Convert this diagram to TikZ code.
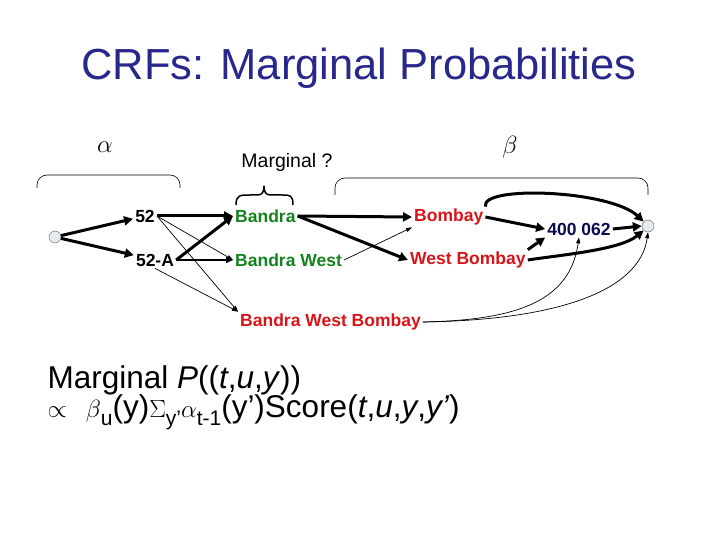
\documentclass[tikz,border=0pt]{standalone}
\usepackage{fontspec}
\setmainfont{Liberation Sans}
\usetikzlibrary{arrows.meta}
\definecolor{tgreen}{RGB}{20,130,30}
\definecolor{tred}{RGB}{215,20,25}
\definecolor{tnavy}{RGB}{10,10,80}
\definecolor{ttitle}{RGB}{40,40,140}
\newcommand{\lsub}[1]{\raisebox{-0.25em}{\fontsize{21}{23}\selectfont #1}}
\tikzset{
 lbl/.style={inner sep=2pt,font=\bfseries\fontsize{17.5}{19}\selectfont},
 thick1/.style={line width=3pt,-{Triangle[length=9pt,width=9pt]}},
 thin1/.style={line width=0.7pt,-{Triangle[length=6pt,width=4pt]}},
 mid1/.style={line width=1.5pt,-{Triangle[length=7pt,width=6pt]}},
 dot/.style={circle,draw=gray!70!black,fill=cyan!15!gray!20,minimum size=12pt,inner sep=0pt},
 brk/.style={line width=0.6pt,rounded corners=10pt}
}
\begin{document}
\begin{tikzpicture}[x=1pt,y=-1pt]
\useasboundingbox (0,0) rectangle (720,540);
\node[text=ttitle,font=\fontsize{43.5}{50}\selectfont] (title) at (359,68) {CRFs: Marginal Probabilities};
\node[font=\fontsize{40}{42}\selectfont] (alpha) at (105,147) {$\alpha$};
\node[font=\fontsize{40}{42}\selectfont] (beta) at (510,147) {$\beta$};
\node[font=\fontsize{19.5}{22}\selectfont] (marg) at (287,162) {Marginal ?};
\draw[brk] (37,188) -- (37,175) -- (180,175) -- (180,188);
\draw[brk] (335,195) -- (335,178) -- (648,178) -- (648,195);
\draw[line width=1.5pt] (236,205) .. controls (236,195) and (240,195) .. (250,195) -- (258,195) .. controls (262,195) and (264,192) .. (264,186) .. controls (264,192) and (266,195) .. (270,195) -- (282,195) .. controls (290,195) and (293,195) .. (293,205);
\node[dot] (s) at (55,237) {};
\node[dot] (e) at (648,226) {};
\node[lbl] (n52) at (145,216) {52};
\node[lbl] (n52a) at (155,260) {52-A};
\node[lbl,text=tgreen,anchor=west] (b) at (233,216) {Bandra};
\node[lbl,text=tgreen,anchor=west] (bw) at (233,260) {Bandra West};
\node[lbl,text=tred,anchor=west] (bo) at (412,217) {Bombay};
\node[lbl,text=tred,anchor=west] (wb) at (408,260) {West Bombay};
\node[lbl,text=tred,anchor=west] (bwb) at (238,322) {Bandra West Bombay};
\node[lbl,text=tnavy] (z) at (579,229) {400 062};
\draw[thick1] (s) -- (n52);
\draw[thick1] (s) -- (n52a);
\draw[thick1] (n52) -- (b);
\draw[thin1] (n52.east) -- (bw.west);
\draw[thin1] (n52.east) -- (bwb.north west);
\draw[thick1] (n52a.east) -- (b.west);
\draw[mid1] (n52a.east) -- (bw.west);
\draw[thin1] (n52a.south) -- (bwb.north west);
\draw[thick1] (b.east) -- (bo.west);
\draw[thick1] (b.east) -- (wb.west);
\draw[thin1] (bw.east) -- (bo.south west);
\draw[thick1] (bo.east) -- (z.west);
\draw[thick1] (bo.north east) .. controls (480,185) and (610,190) .. (e.north west);
\draw[thick1] (wb.north east) -- (z.south west);
\draw[thick1] (wb.east) .. controls (560,255) and (620,250) .. (e.south west);
\draw[thin1] (bwb.east) .. controls (520,320) and (570,300) .. (z.south);
\draw[thin1] (bwb.east) .. controls (560,320) and (640,290) .. (e.south);
\draw[thick1] (z.east) -- (e.west);
\node[anchor=west,font=\fontsize{31.5}{34}\selectfont] (f1) at (44,380) {Marginal \textit{P}((\textit{t},\textit{u},\textit{y}))};
\node[anchor=west,font=\fontsize{31.5}{34}\selectfont] (f2) at (44,412) {$\propto$\hspace{0.6em}$\beta$\lsub{u}(y)$\Sigma$\lsub{y'}$\alpha$\lsub{t-1}(y')Score(\textit{t},\textit{u},\textit{y},\textit{y'})};
\end{tikzpicture}
\end{document}
